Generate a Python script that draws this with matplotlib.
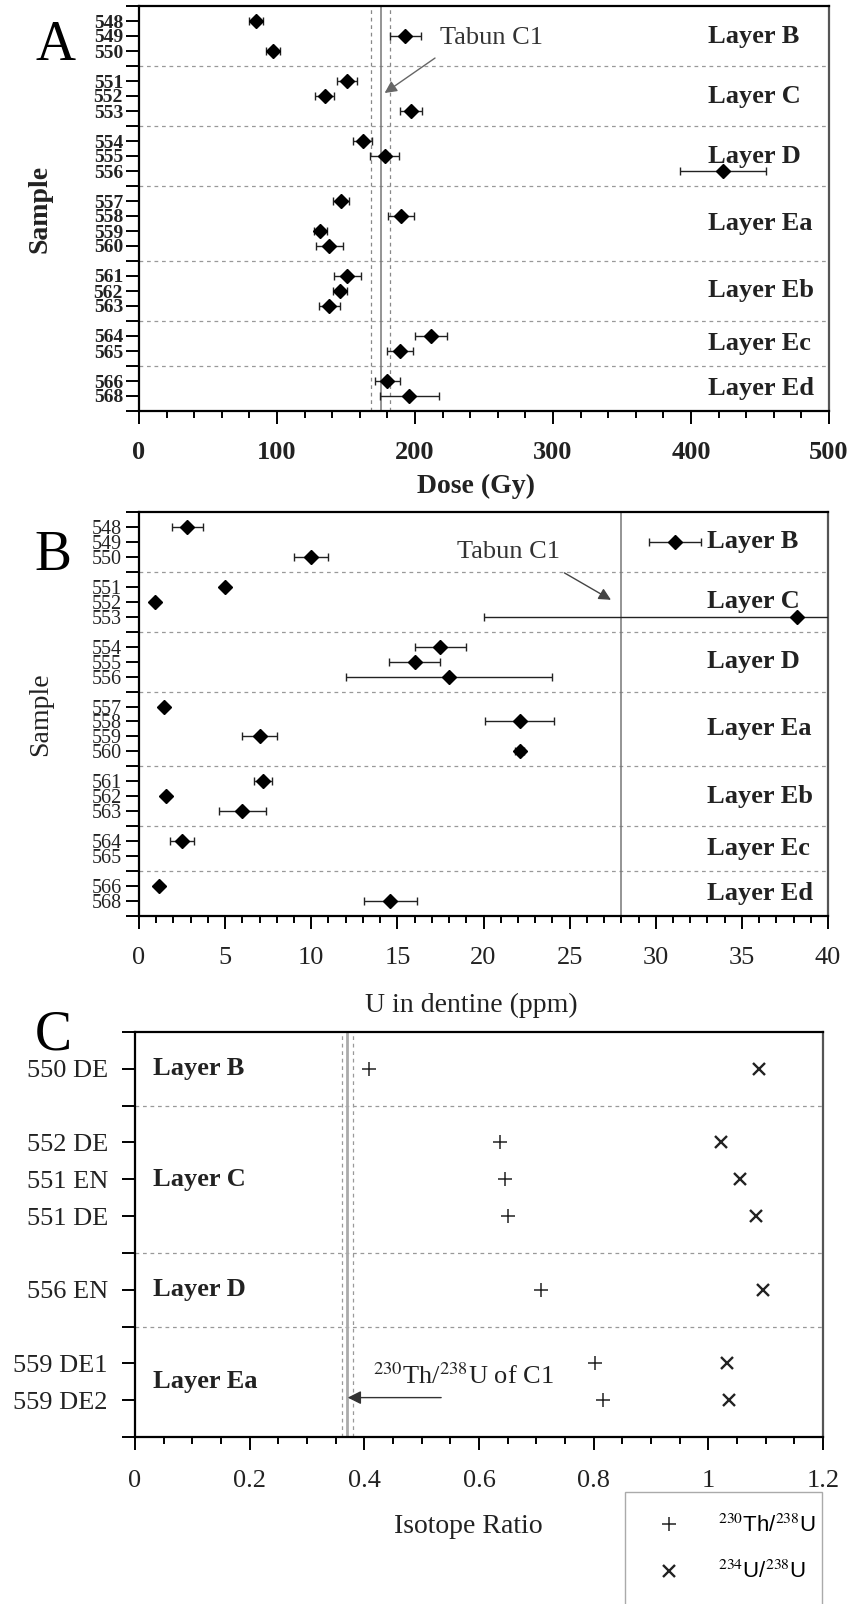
import numpy as np
import matplotlib.pyplot as plt
from matplotlib.ticker import MultipleLocator

plt.rcParams['font.family'] = ['Liberation Serif', 'DejaVu Serif']
plt.rcParams['mathtext.fontset'] = 'stix'

# ---- data ----
layers = ['Layer B', 'Layer C', 'Layer D', 'Layer Ea', 'Layer Eb', 'Layer Ec', 'Layer Ed']
groups = [['548', '549', '550'], ['551', '552', '553'], ['554', '555', '556'],
          ['557', '558', '559', '560'], ['561', '562', '563'], ['564', '565'], ['566', '568']]

dose = [85, 193, 97, 151, 134.5, 197, 162, 178, 423, 146.5,
        190, 131.5, 138, 151, 145.5, 138, 211.5, 189, 180, 196]
dose_err = [5, 11, 5, 7.3, 7, 8, 7, 10.7, 31, 6,
            9.4, 5, 10, 10, 5, 7.7, 11.6, 9.5, 9, 21.5]
dose_c1 = 175
dose_c1_err = 7

u_ppm = [2.8, 31.1, 10.0, 5.0, 0.95, 38.2, 17.5, 16.0, 18.0, 1.45,
         22.1, 7.0, 22.1, 7.2, 1.55, 6.0, 2.5, np.nan, 1.15, 14.6]
u_err = [0.9, 1.5, 1.0, 0.0, 0.0, 18.2, 1.5, 1.5, 6.0, 0.0,
         2.0, 1.0, 0.25, 0.5, 0.0, 1.35, 0.7, np.nan, 0.0, 1.55]
u_c1 = 28

c_layers = ['Layer B', 'Layer C', 'Layer D', 'Layer Ea']
c_groups = [['550 DE'], ['552 DE', '551 EN', '551 DE'], ['556 EN'], ['559 DE1', '559 DE2']]
th_u = [0.408, 0.637, 0.646, 0.650, 0.709, 0.802, 0.816]
u_u = [1.089, 1.022, 1.055, 1.084, 1.096, 1.032, 1.036]
th_u_c1 = 0.37
th_u_c1_err = 0.0095


def layout(grps):
    # row positions of samples, separator rows and group centres
    pos, seps, centers = [], [], []
    y = 0
    for i, g in enumerate(grps):
        if i > 0:
            y += 1
            seps.append(y)
        start = y + 1
        for s in g:
            y += 1
            pos.append(y)
        centers.append((start + y) / 2)
    return np.array(pos), seps, centers, y + 1


def style(ax, ylab_size, ylab_bold, ylab_pad):
    for s in ax.spines.values():
        s.set_linewidth(1.6)
        s.set_color('black')
    ax.spines['right'].set_color('#555')
    ax.tick_params(which='both', direction='out', width=1.4, color='black')
    ax.tick_params(which='major', length=9.5)
    ax.tick_params(which='minor', length=5)
    ax.tick_params(axis='y', labelsize=ylab_size, pad=ylab_pad, labelcolor='#222')
    if ylab_bold:
        for t in ax.get_yticklabels():
            t.set_fontweight('bold')


fig = plt.figure(figsize=(8.59, 16.04), dpi=100)

samples = [s for g in groups for s in g]
pos, seps, centers, n = layout(groups)
ticks = list(range(0, n + 1))
tlabels = ['' for t in ticks]
for p, s in zip(pos, samples):
    tlabels[p] = s

# ---------- A : dose ----------
axA = fig.add_axes([139/859, 1-411/1604, 690/859, 405/1604])
axA.errorbar(dose, pos, xerr=dose_err, fmt='D', color='black', ms=7,
             ecolor='#222', elinewidth=1, capsize=2.8, capthick=1, zorder=5)
for s in seps:
    axA.axhline(s, color='#999', lw=0.9, ls=(0, (3, 3)))
axA.axvline(dose_c1, color='#777', lw=1.1)
axA.axvline(dose_c1 - dose_c1_err, color='#888', lw=0.9, ls=(0, (3, 3)))
axA.axvline(dose_c1 + dose_c1_err, color='#888', lw=0.9, ls=(0, (3, 3)))
axA.set_xlim(0, 500)
axA.set_ylim(n, 0)
axA.xaxis.set_major_locator(MultipleLocator(100))
axA.xaxis.set_minor_locator(MultipleLocator(20))
axA.set_yticks(ticks, tlabels)
style(axA, 14, True, 2)
axA.tick_params(axis='x', labelsize=19, pad=12, labelcolor='#222')
for t in axA.get_xticklabels():
    t.set_fontweight('bold')
for lab, c in zip(layers, centers):
    axA.text(412, c, lab, fontsize=19, fontweight='bold', color='#222', va='center', ha='left')
axA.text(218, 2.13, 'Tabun C1', fontsize=19, color='#333', va='center', ha='left')
axA.annotate('', xy=(178, 5.8), xytext=(214.5, 3.47),
             arrowprops=dict(arrowstyle='-|>', color='#666', lw=1, mutation_scale=18,
                             shrinkA=0, shrinkB=0))
axA.set_xlabel('Dose (Gy)', fontsize=20, fontweight='bold', color='#222')
axA.xaxis.set_label_coords(0.488, -0.155)
axA.set_ylabel('Sample', fontsize=20, fontweight='bold', color='#222')
axA.yaxis.set_label_coords(-0.125, 0.5)

# ---------- B : uranium ----------
axB = fig.add_axes([139/859, 1-916/1604, 689/859, 404/1604])
axB.errorbar(u_ppm, pos, xerr=u_err, fmt='D', color='black', ms=7,
             ecolor='#222', elinewidth=1, capsize=2.8, capthick=1, zorder=5)
for s in seps:
    axB.axhline(s, color='#999', lw=0.9, ls=(0, (3, 3)))
axB.axvline(u_c1, color='#777', lw=1.1)
axB.set_xlim(0, 40)
axB.set_ylim(n, 0)
axB.xaxis.set_major_locator(MultipleLocator(5))
axB.xaxis.set_minor_locator(MultipleLocator(1))
axB.set_yticks(ticks, tlabels)
style(axB, 14.5, False, 3)
axB.tick_params(axis='x', labelsize=19, pad=13, labelcolor='#222')
for lab, c in zip(layers, centers):
    axB.text(33.0, c, lab, fontsize=19, fontweight='bold', color='#222', va='center', ha='left')
axB.text(21.45, 2.67, 'Tabun C1', fontsize=19, color='#333', va='center', ha='center')
axB.annotate('', xy=(27.4, 5.87), xytext=(24.7, 4.07),
             arrowprops=dict(arrowstyle='-|>', color='#444', lw=1, mutation_scale=18,
                             shrinkA=0, shrinkB=0))
axB.set_xlabel('U in dentine (ppm)', fontsize=20, color='#222')
axB.xaxis.set_label_coords(0.482, -0.19)
axB.set_ylabel('Sample', fontsize=20, color='#222')
axB.yaxis.set_label_coords(-0.125, 0.5)

# ---------- C : isotope ratios ----------
c_samples = [s for g in c_groups for s in g]
cpos, cseps, ccenters, cn = layout(c_groups)
cticks = list(range(0, cn + 1))
clabels = ['' for t in cticks]
for p, s in zip(cpos, c_samples):
    clabels[p] = s

axC = fig.add_axes([135/859, 1-1437/1604, 688/859, 405/1604])
axC.plot(th_u, cpos, '+', color='#222', ms=10, mew=1.1, ls='none',
         label=r'$^{230}$Th/$^{238}$U')
axC.plot(u_u, cpos, 'x', color='#222', ms=8, mew=1.7, ls='none',
         label=r'$^{234}$U/$^{238}$U')
for s in cseps:
    axC.axhline(s, color='#999', lw=0.9, ls=(0, (3, 3)))
axC.axvline(th_u_c1, color='#aaa', lw=2)
axC.axvline(th_u_c1 - th_u_c1_err, color='#999', lw=0.9, ls=(0, (3, 3)))
axC.axvline(th_u_c1 + th_u_c1_err, color='#999', lw=0.9, ls=(0, (3, 3)))
axC.set_xlim(0, 1.2)
axC.set_ylim(cn, 0)
axC.xaxis.set_minor_locator(MultipleLocator(0.05))
axC.set_xticks([0, 0.2, 0.4, 0.6, 0.8, 1.0, 1.2], ['0', '0.2', '0.4', '0.6', '0.8', '1', '1.2'])
axC.set_yticks(cticks, clabels)
style(axC, 19, False, 10)
axC.tick_params(axis='x', labelsize=19, pad=14, labelcolor='#222')
for lab, c in zip(c_layers, ccenters):
    axC.text(0.031, c, lab, fontsize=19, fontweight='bold', color='#222', va='center', ha='left')
axC.text(0.415, 9.55, r'$^{230}$Th/$^{238}$U of C1', fontsize=19, color='#222', va='baseline', ha='left')
axC.annotate('', xy=(0.371, 9.93), xytext=(0.534, 9.93),
             arrowprops=dict(arrowstyle='-|>', color='#333', lw=1, mutation_scale=20,
                             shrinkA=0, shrinkB=0))
axC.set_xlabel('Isotope Ratio', fontsize=20, color='#222')
axC.xaxis.set_label_coords(0.485, -0.19)
axC.legend(loc='upper left', bbox_to_anchor=(625/859, 0, 197/859, 1-1492/1604),
           bbox_transform=fig.transFigure, mode='expand', borderaxespad=0,
           frameon=True, fancybox=False, edgecolor='#aaa', framealpha=1,
           prop=dict(family='Liberation Sans', size=16), borderpad=1.0,
           handlelength=2, handletextpad=1.2, labelspacing=1.1)

# panel letters
fig.text(55/859, 1-60/1604, 'A', fontsize=40, ha='center', va='baseline')
fig.text(53/859, 1-570/1604, 'B', fontsize=40, ha='center', va='baseline')
fig.text(53/859, 1-1050/1604, 'C', fontsize=40, ha='center', va='baseline')

fig.savefig('out.png', dpi=100)
